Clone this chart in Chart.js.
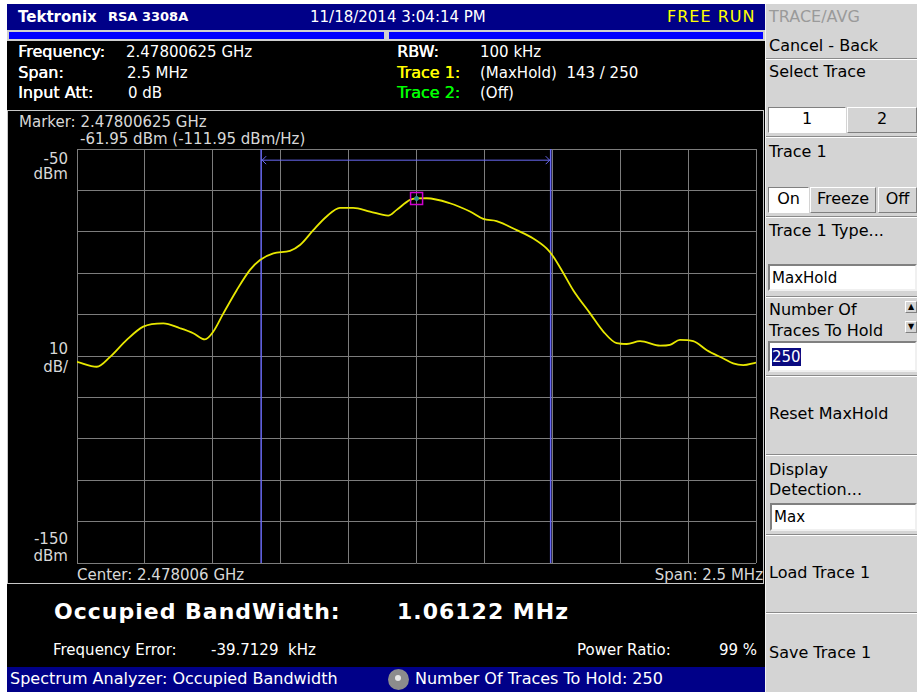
<!DOCTYPE html>
<html>
<head>
<meta charset="utf-8">
<script src="https://cdn.jsdelivr.net/npm/chart.js@4.4.0/dist/chart.umd.min.js"></script>
<style>
  body { margin:0; width:917px; height:692px; background:#fff; position:relative; overflow:hidden;
         font-family:"DejaVu Sans", sans-serif; }
  .a { position:absolute; white-space:nowrap; line-height:18px; font-size:15px; }
  .w { color:#fff; }
  .lab { color:#fff; font-size:16px; text-shadow:0.4px 0 0 #fff; }
  .g { color:#d8d8d8; }
  .k { color:#000; font-size:16px; }
  .box { position:absolute; }
  .sep { position:absolute; left:766px; width:151px; height:1px; background:#8a8a8a; border-bottom:1px solid #fff; }
  .btn { position:absolute; box-sizing:border-box; background:#d4d4d4; border:1px solid; border-color:#fff #808080 #808080 #fff;
         text-align:center; font-size:16px; line-height:22px; color:#000; }
  .btn.on { background:#fff; border-color:#808080 #fff #fff #808080; }
  .inp { position:absolute; box-sizing:border-box; background:#fff; border:2px solid; border-color:#808080 #f0f0f0 #f0f0f0 #808080; }
</style>
</head>
<body>
<!-- top title bar -->
<div class="box" style="left:7px;top:4px;width:758px;height:26px;background:#000088"></div>
<div class="a w" style="left:18px;top:8px;font-size:15px;font-weight:bold">Tektronix</div>
<div class="a w" style="left:108px;top:8px;font-size:13px;font-weight:bold">RSA 3308A</div>
<div class="a w" style="left:310px;top:8px">11/18/2014 3:04:14 PM</div>
<div class="a" style="left:667px;top:8px;color:#ffff00;font-size:16px;letter-spacing:1px">FREE RUN</div>

<!-- blue strip -->
<div class="box" style="left:7px;top:30px;width:758px;height:11px;background:#d0d0d0"></div>
<div class="box" style="left:9px;top:32px;width:375px;height:7px;background:#0000ff"></div>
<div class="box" style="left:389px;top:32px;width:374px;height:7px;background:#0000ff"></div>

<!-- black body -->
<div class="box" style="left:7px;top:41px;width:758px;height:626px;background:#000"></div>

<!-- info panel -->
<div class="a lab" style="left:18px;top:43px">Frequency:</div>
<div class="a w" style="left:126px;top:43px">2.47800625 GHz</div>
<div class="a lab" style="left:18px;top:64px">Span:</div>
<div class="a w" style="left:127px;top:64px">2.5 MHz</div>
<div class="a lab" style="left:18px;top:84px">Input Att:</div>
<div class="a w" style="left:128px;top:84px">0 dB</div>
<div class="a lab" style="left:397px;top:43px">RBW:</div>
<div class="a w" style="left:480px;top:43px">100 kHz</div>
<div class="a lab" style="left:397px;top:64px;color:#ffff00;text-shadow:0.4px 0 0 #ff0">Trace 1:</div>
<div class="a w" style="left:480px;top:64px">(MaxHold)&nbsp; 143 / 250</div>
<div class="a lab" style="left:397px;top:84px;color:#00ff00;text-shadow:0.4px 0 0 #0f0">Trace 2:</div>
<div class="a w" style="left:480px;top:84px">(Off)</div>

<!-- plot frame -->
<div class="box" style="left:7px;top:110px;width:755px;height:472px;border:1px solid #c8c8c8;background:#000"></div>
<div class="a g" style="left:19px;top:113px">Marker: 2.47800625 GHz</div>
<div class="a g" style="left:80px;top:130px">-61.95 dBm (-111.95 dBm/Hz)</div>
<div class="a g" style="right:849px;top:150px">-50</div>
<div class="a g" style="right:849px;top:165px">dBm</div>
<div class="a g" style="right:849px;top:340px">10</div>
<div class="a g" style="right:849px;top:358px">dB/</div>
<div class="a g" style="right:849px;top:530px">-150</div>
<div class="a g" style="right:849px;top:547px">dBm</div>
<div class="a g" style="left:77px;top:566px">Center: 2.478006 GHz</div>
<div class="a g" style="right:154px;top:566px">Span: 2.5 MHz</div>

<canvas id="spec" width="683" height="418" style="position:absolute;left:75px;top:147px"></canvas>

<!-- results -->
<div class="a w" style="left:54px;top:599px;font-size:22px;line-height:26px;font-weight:bold;letter-spacing:1px">Occupied BandWidth:</div>
<div class="a w" style="left:397px;top:599px;font-size:22px;line-height:26px;font-weight:bold;letter-spacing:1px">1.06122 MHz</div>
<div class="a w" style="left:53px;top:641px">Frequency Error:</div>
<div class="a w" style="left:211px;top:641px">-39.7129&nbsp; kHz</div>
<div class="a w" style="left:577px;top:641px">Power Ratio:</div>
<div class="a w" style="left:719px;top:641px">99 %</div>

<!-- status bar -->
<div class="box" style="left:7px;top:667px;width:758px;height:25px;background:#000088"></div>
<div class="a w" style="left:10px;top:670px;font-size:16px">Spectrum Analyzer: Occupied Bandwidth</div>
<div class="box" style="left:388px;top:669px;width:21px;height:21px;border-radius:50%;background:#8c8c8c"></div>
<div class="box" style="left:395px;top:675px;width:6px;height:6px;border-radius:50%;background:#e8e8e8"></div>
<div class="a w" style="left:415px;top:670px;font-size:16px">Number Of Traces To Hold: 250</div>

<!-- right softkey panel -->
<div class="box" style="left:765px;top:4px;width:152px;height:688px;background:#d4d4d4;border-left:1px solid #f4f4f4;box-sizing:border-box"></div>
<div class="a k" style="left:769px;top:8px;color:#9a9a9a">TRACE/AVG</div>
<div class="a k" style="left:769px;top:37px">Cancel - Back</div>
<div class="sep" style="top:58px"></div>
<div class="a k" style="left:769px;top:63px">Select Trace</div>
<div class="btn on" style="left:768px;top:107px;width:78px;height:26px">1</div>
<div class="btn" style="left:847px;top:107px;width:70px;height:26px">2</div>
<div class="sep" style="top:136px"></div>
<div class="a k" style="left:769px;top:143px">Trace 1</div>
<div class="btn on" style="left:768px;top:187px;width:41px;height:26px">On</div>
<div class="btn" style="left:810px;top:187px;width:66px;height:26px">Freeze</div>
<div class="btn" style="left:878px;top:187px;width:39px;height:26px">Off</div>
<div class="sep" style="top:216px"></div>
<div class="a k" style="left:769px;top:222px">Trace 1 Type...</div>
<div class="inp" style="left:768px;top:264px;width:149px;height:27px"></div>
<div class="a k" style="left:772px;top:269px;font-size:15px">MaxHold</div>
<div class="sep" style="top:296px"></div>
<div class="a k" style="left:769px;top:301px">Number Of</div>
<div class="a k" style="left:769px;top:322px">Traces To Hold</div>
<div class="btn" style="left:905px;top:301px;width:12px;height:12px;font-size:8px;line-height:10px">&#9650;</div>
<div class="btn" style="left:905px;top:321px;width:12px;height:12px;font-size:8px;line-height:10px">&#9660;</div>
<div class="inp" style="left:768px;top:341px;width:149px;height:31px"></div>
<div class="a" style="left:772px;top:348px;font-size:15px;background:#0a0a80;color:#fff">250</div>
<div class="sep" style="top:375px"></div>
<div class="a k" style="left:769px;top:405px">Reset MaxHold</div>
<div class="sep" style="top:454px"></div>
<div class="a k" style="left:769px;top:461px">Display</div>
<div class="a k" style="left:769px;top:481px">Detection...</div>
<div class="inp" style="left:770px;top:503px;width:147px;height:28px"></div>
<div class="a k" style="left:774px;top:508px;font-size:15px">Max</div>
<div class="sep" style="top:534px"></div>
<div class="a k" style="left:769px;top:564px">Load Trace 1</div>
<div class="sep" style="top:612px"></div>
<div class="a k" style="left:769px;top:644px">Save Trace 1</div>

<script>
// trace 1 (max hold), frequency offset from center in kHz
const freqOffsetKHz = [-1250, -1177, -1128, -1067, -1006, -932, -871, -822, -779, -748, -711, -662, -613, -576, -527,
  -466, -429, -380, -331, -282, -233, -171, -104, -73, -24, 0, 38, 123, 197, 246, 295, 369, 430, 479, 504, 541,
  577, 639, 688, 737, 774, 823, 897, 933, 970, 1019, 1069, 1130, 1166, 1203, 1250];
const traceDbm = [-101.4, -102.6, -100.2, -96.1, -92.9, -92.1, -93.3, -94.5, -96.0, -94.1, -89.7, -84.1, -79.2, -76.8, -75.2,
  -74.6, -73.2, -69.6, -66.3, -64.2, -64.2, -65.1, -66.1, -64.7, -62.3, -61.95, -61.9, -63.1, -65.1, -66.9, -67.4, -69.6,
  -71.6, -74.0, -76.0, -80.0, -84.1, -89.7, -94.1, -96.9, -97.1, -96.4, -97.5, -97.3, -96.1, -96.4, -98.6, -100.6,
  -101.8, -102.2, -101.6];

const markerKHz = 0.25;
const markerDbm = -61.95;
const obwEdgesKHz = [-572, 494];
const obwArrowDbm = -52.7;
const spanKHz = [-1250, 1250];
const refLevels = [-150, -50];

const gridColor = '#7c7c7c';
const obwColor = '#6a6af4';

const obwArrows = {
  id: 'obwArrows',
  afterDatasetsDraw(chart) {
    const {ctx, scales: {x, y}} = chart;
    const yp = y.getPixelForValue(obwArrowDbm);
    const xl = x.getPixelForValue(obwEdgesKHz[0]);
    const xr = x.getPixelForValue(obwEdgesKHz[1]);
    ctx.save();
    ctx.strokeStyle = obwColor;
    ctx.lineWidth = 1;
    ctx.beginPath();
    ctx.moveTo(xl + 5, yp - 4); ctx.lineTo(xl + 1, yp); ctx.lineTo(xl + 5, yp + 4);
    ctx.moveTo(xr - 5, yp - 4); ctx.lineTo(xr - 1, yp); ctx.lineTo(xr - 5, yp + 4);
    ctx.stroke();
    ctx.restore();
  }
};

const tracePts = freqOffsetKHz.map((f, i) => ({x: f, y: traceDbm[i]}));

new Chart(document.getElementById('spec'), {
  type: 'line',
  data: {
    datasets: [
      { data: [{x: markerKHz, y: markerDbm}], showLine: false, pointStyle: 'rect', pointRadius: 8.5,
        borderColor: '#d000d0', backgroundColor: 'rgba(0,0,0,0)', pointBorderWidth: 1.5 },
      { data: [{x: markerKHz, y: markerDbm}], showLine: false, pointRadius: 2, borderColor: '#2a9090',
        backgroundColor: '#2a9090' },
      { data: tracePts, borderColor: '#e8e800', borderWidth: 1.8, pointRadius: 0, cubicInterpolationMode: 'monotone' },
      { data: [{x: obwEdgesKHz[0], y: refLevels[0]}, {x: obwEdgesKHz[0], y: refLevels[1]}],
        borderColor: obwColor, borderWidth: 1.5, pointRadius: 0 },
      { data: [{x: obwEdgesKHz[1], y: refLevels[0]}, {x: obwEdgesKHz[1], y: refLevels[1]}],
        borderColor: obwColor, borderWidth: 1.5, pointRadius: 0 },
      { data: [{x: obwEdgesKHz[0], y: obwArrowDbm}, {x: obwEdgesKHz[1], y: obwArrowDbm}],
        borderColor: obwColor, borderWidth: 1, pointRadius: 0 }
    ]
  },
  options: {
    responsive: false,
    animation: false,
    devicePixelRatio: 1,
    layout: { padding: 2, autoPadding: false },
    plugins: { legend: { display: false }, tooltip: { enabled: false } },
    scales: {
      x: { type: 'linear', min: spanKHz[0], max: spanKHz[1],
           ticks: { display: false, stepSize: 250 },
           grid: { color: gridColor, lineWidth: 1, drawTicks: false },
           border: { display: false } },
      y: { min: refLevels[0], max: refLevels[1],
           ticks: { display: false, stepSize: 10 },
           grid: { color: gridColor, lineWidth: 1, drawTicks: false },
           border: { display: false } }
    }
  },
  plugins: [obwArrows]
});
</script>
</body>
</html>
